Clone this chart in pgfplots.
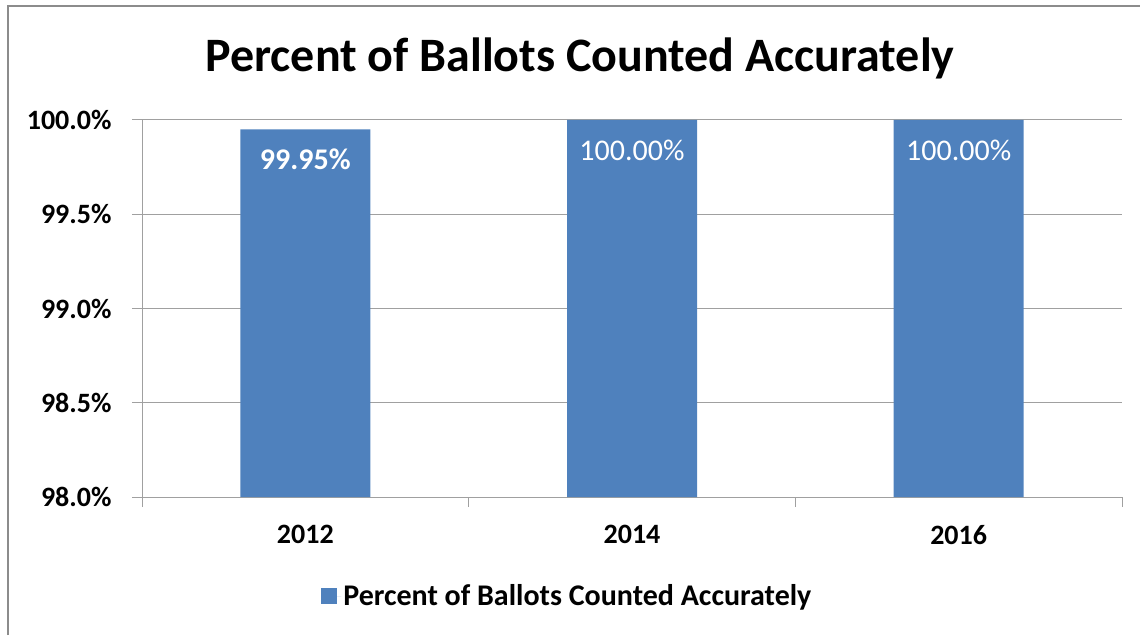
\documentclass[border=0pt]{standalone}
\usepackage{pgfplots}
\pgfplotsset{compat=1.18}
\usepackage{fontspec}
\setmainfont{Carlito}
\definecolor{barblue}{RGB}{79,129,189}
\definecolor{gridgray}{RGB}{160,160,160}
\definecolor{framegray}{RGB}{140,140,140}
\begin{document}
\begin{tikzpicture}[x=1pt,y=1pt]
\useasboundingbox (0,0) rectangle (1140,635);
\draw[framegray, line width=2pt] (8,0) -- (8,629) -- (1140,629);
\node[anchor=base, font=\fontsize{48}{56}\selectfont\bfseries, inner sep=0pt] at (580,563) {Percent of Ballots Counted Accurately};
\begin{axis}[
  at={(142pt,138pt)}, anchor=south west,
  scale only axis, width=980pt, height=377pt,
  ybar, bar width=130pt,
  xmin=-0.5, xmax=2.5, ymin=98, ymax=100,
  xtick={0,1,2}, xticklabels={2012,2014,2016},
  minor xtick={-0.5,0.5,1.5,2.5},
  ytick={98,98.5,99,99.5,100},
  /pgf/number format/assume math mode=true,
  yticklabel={\pgfmathprintnumber[fixed,fixed zerofill,precision=1]{\tick}\%},
  ticklabel style={font=\fontsize{28}{34}\selectfont\bfseries},
  yticklabel style={xshift=-17pt},
  xticklabel style={yshift=-15pt},
  axis x line*=bottom, axis y line*=left,
  axis line style={gridgray, line width=1pt},
  tick align=outside,
  major tick length=10pt, minor tick length=10pt,
  major x tick style={draw=none},
  tick style={gridgray, line width=1pt},
  ymajorgrids, grid style={gridgray, line width=1pt},
  point meta=explicit symbolic,
  nodes near coords,
  nodes near coords style={anchor=center, yshift=-30pt, text=white, font=\fontsize{30}{36}\selectfont},
  legend style={at={(0.434,-0.263)}, anchor=center, draw=none, fill=none, font=\fontsize{30}{36}\selectfont\bfseries},
]
\addplot[fill=barblue, draw=none, legend image code/.code={\fill[barblue] (0pt,-8pt) rectangle (16pt,8pt); \path (0pt,0pt) -- (20pt,0pt);}]
  coordinates {(0,99.95) [\textbf{99.95\%}] (1,100) [100.00\%] (2,100) [100.00\%]};
\addlegendentry{Percent of Ballots Counted Accurately}
\end{axis}
\end{tikzpicture}
\end{document}
